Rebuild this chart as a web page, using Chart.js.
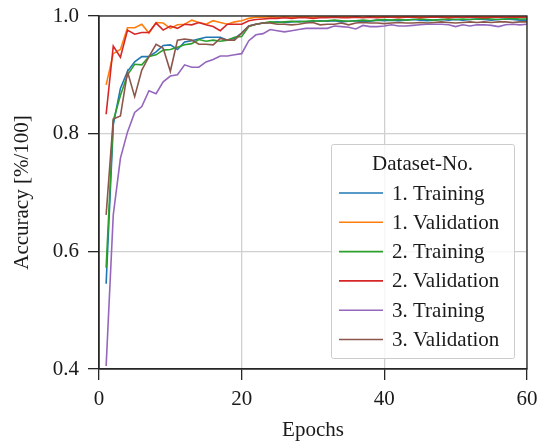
<!DOCTYPE html>
<html><head><meta charset="utf-8">
<script src="https://cdn.jsdelivr.net/npm/chart.js@4.4.1/dist/chart.umd.min.js"></script>
<style>html,body{margin:0;padding:0;background:#fff}#wrap{width:539px;height:443px}</style>
</head><body><div id="wrap"><canvas id="c" width="539" height="443"></canvas></div>
<script>
const epochs = [1,2,3,4,5,6,7,8,9,10,11,12,13,14,15,16,17,18,19,20,21,22,23,24,25,26,27,28,29,30,
  31,32,33,34,35,36,37,38,39,40,41,42,43,44,45,46,47,48,49,50,51,52,53,54,55,56,57,58,59,60];

const train1 = [0.545,0.815,0.877,0.906,0.922,0.931,0.931,0.939,0.950,0.951,
  0.943,0.956,0.958,0.961,0.964,0.964,0.964,0.959,0.962,0.971,
  0.983,0.986,0.988,0.989,0.990,0.989,0.990,0.991,0.990,0.991,
  0.992,0.991,0.992,0.990,0.991,0.992,0.990,0.991,0.993,0.992,
  0.993,0.992,0.993,0.994,0.993,0.992,0.993,0.994,0.993,0.994,
  0.993,0.994,0.995,0.994,0.993,0.994,0.995,0.994,0.993,0.993];

const val1 = [0.883,0.936,0.943,0.980,0.980,0.986,0.971,0.989,0.988,0.979,
  0.985,0.986,0.993,0.989,0.986,0.992,0.989,0.986,0.990,0.992,
  0.996,0.998,0.998,0.999,0.998,0.999,0.998,0.999,0.999,0.998,
  0.999,0.999,0.998,0.999,0.999,0.999,0.998,0.999,0.999,0.999,
  0.998,0.999,0.999,0.999,0.999,0.998,0.999,0.999,0.999,0.999,
  0.998,0.999,0.999,0.999,0.999,0.999,0.998,0.999,0.999,0.999];

const train2 = [0.572,0.822,0.865,0.900,0.918,0.917,0.931,0.934,0.942,0.943,
  0.947,0.951,0.953,0.960,0.957,0.959,0.957,0.959,0.964,0.965,
  0.982,0.986,0.988,0.990,0.989,0.990,0.991,0.990,0.991,0.992,
  0.991,0.992,0.993,0.992,0.991,0.992,0.993,0.992,0.993,0.994,
  0.993,0.994,0.993,0.994,0.995,0.994,0.993,0.994,0.995,0.994,
  0.995,0.994,0.995,0.996,0.995,0.994,0.995,0.996,0.995,0.995];

const val2 = [0.833,0.949,0.930,0.976,0.969,0.972,0.972,0.988,0.976,0.983,
  0.979,0.986,0.985,0.989,0.985,0.982,0.975,0.986,0.986,0.986,
  0.992,0.994,0.995,0.996,0.996,0.997,0.996,0.997,0.997,0.996,
  0.997,0.997,0.998,0.997,0.997,0.998,0.997,0.998,0.997,0.998,
  0.998,0.997,0.998,0.998,0.997,0.998,0.998,0.998,0.997,0.998,
  0.998,0.998,0.998,0.997,0.998,0.998,0.998,0.998,0.998,0.998];

const train3 = [0.405,0.662,0.758,0.803,0.836,0.846,0.873,0.868,0.888,0.898,
  0.900,0.917,0.913,0.913,0.922,0.926,0.932,0.932,0.934,0.936,
  0.958,0.968,0.970,0.977,0.975,0.973,0.975,0.977,0.979,0.979,
  0.979,0.979,0.983,0.982,0.981,0.978,0.984,0.982,0.982,0.983,
  0.985,0.983,0.983,0.984,0.985,0.986,0.986,0.986,0.985,0.982,
  0.985,0.983,0.985,0.985,0.984,0.982,0.985,0.986,0.985,0.986];

const val3 = [0.662,0.825,0.830,0.905,0.863,0.908,0.931,0.952,0.945,0.906,
  0.959,0.961,0.959,0.952,0.952,0.951,0.962,0.959,0.959,0.971,
  0.983,0.986,0.988,0.988,0.986,0.986,0.985,0.986,0.988,0.989,
  0.985,0.986,0.986,0.988,0.985,0.988,0.989,0.988,0.988,0.987,
  0.988,0.989,0.988,0.988,0.989,0.988,0.989,0.990,0.989,0.988,
  0.989,0.990,0.989,0.990,0.989,0.990,0.990,0.989,0.990,0.990];

const seriesLabels = ['1. Training','1. Validation','2. Training','2. Validation','3. Training','3. Validation'];
const seriesData = [train1, val1, train2, val2, train3, val3];
const seriesColors = ['#1f77b4','#ff7f0e','#2ca02c','#d62728','#9467bd','#8c564b'];
const legendTitle = 'Dataset-No.';
const xTitle = 'Epochs';
const yTitle = 'Accuracy [%/100]';
const xTicks = [0,20,40,60];
const yTicks = [0.4,0.6,0.8,1.0];

const FONT = 'Liberation Serif, Times New Roman, serif';
const INK = '#1a1a1a';

const datasets = seriesLabels.map((lab,i)=>({
  label: lab,
  data: epochs.map((e,j)=>({x:e, y:seriesData[i][j]})),
  borderColor: seriesColors[i],
  backgroundColor: seriesColors[i],
  borderWidth: 1.6,
  pointRadius: 0,
  fill: false,
  tension: 0,
  order: seriesLabels.length - i
}));

const framePlugin = {
  id:'frame',
  afterDatasetsDraw(chart){
    const {ctx, chartArea:a} = chart;
    ctx.save();
    ctx.strokeStyle = '#262626'; ctx.lineWidth = 1.3;
    ctx.strokeRect(a.left, a.top, a.right-a.left, a.bottom-a.top);
    ctx.restore();
  }
};

const legendPlugin = {
  id:'insideLegend',
  afterDraw(chart){
    const {ctx} = chart;
    const bx = 331, by = 144, bw = 183, bh = 214;
    ctx.save();
    ctx.fillStyle = 'rgba(255,255,255,0.8)';
    ctx.strokeStyle = '#cccccc';
    ctx.lineWidth = 1;
    ctx.beginPath();
    if (ctx.roundRect) ctx.roundRect(bx+0.5, by+0.5, bw, bh, 2); else ctx.rect(bx+0.5, by+0.5, bw, bh);
    ctx.fill(); ctx.stroke();
    ctx.font = '21px ' + FONT;
    ctx.fillStyle = INK;
    ctx.textBaseline = 'middle';
    ctx.textAlign = 'center';
    ctx.fillText(legendTitle, bx + bw/2, 164);
    ctx.textAlign = 'left';
    chart.data.datasets.forEach((ds,i)=>{
      const y = 193 + i*29.3;
      ctx.strokeStyle = ds.borderColor;
      ctx.lineWidth = 1.6;
      ctx.beginPath(); ctx.moveTo(339, y); ctx.lineTo(383, y); ctx.stroke();
      ctx.fillStyle = INK;
      ctx.fillText(ds.label, 392, y + 1);
    });
    ctx.restore();
  }
};

new Chart(document.getElementById('c'), {
  type: 'line',
  data: { datasets },
  plugins: [framePlugin, legendPlugin],
  options: {
    responsive: false,
    animation: false,
    events: [],
    layout: { padding: { top: 16, right: 12, left: 0, bottom: 0 } },
    plugins: { legend: { display: false }, tooltip: { enabled: false } },
    scales: {
      x: {
        type: 'linear', min: 0, max: 60,
        afterBuildTicks(s){ s.ticks = xTicks.map(v=>({value:v})); },
        ticks: { color: INK, font: { family: FONT, size: 21 }, padding: 7, maxRotation: 0,
                 callback: v => String(v) },
        grid: { color: '#d0d0d0', lineWidth: 1.3, tickLength: 11, tickColor: '#262626', tickWidth: 1.3 },
        border: { color: '#262626', width: 1.3 },
        title: { display: true, text: xTitle, color: INK, font: { family: FONT, size: 21 }, padding: { top: 0, bottom: 0 } },
        afterFit(s){ s.height = 74; s.paddingLeft = 0; s.paddingRight = 0; }
      },
      y: {
        type: 'linear', min: 0.4, max: 1.0,
        afterBuildTicks(s){ s.ticks = yTicks.map(v=>({value:v})); },
        ticks: { color: INK, font: { family: FONT, size: 21 }, padding: 9,
                 callback: v => Number(v).toFixed(1) },
        grid: { color: '#d0d0d0', lineWidth: 1.3, tickLength: 11, tickColor: '#262626', tickWidth: 1.3 },
        border: { color: '#262626', width: 1.3 },
        title: { display: true, text: yTitle, color: INK, font: { family: FONT, size: 21 }, padding: { top: 10, bottom: 0 } },
        afterFit(s){ s.width = 99; s.paddingTop = 0; s.paddingBottom = 0; }
      }
    }
  }
});
</script>
</body></html>
